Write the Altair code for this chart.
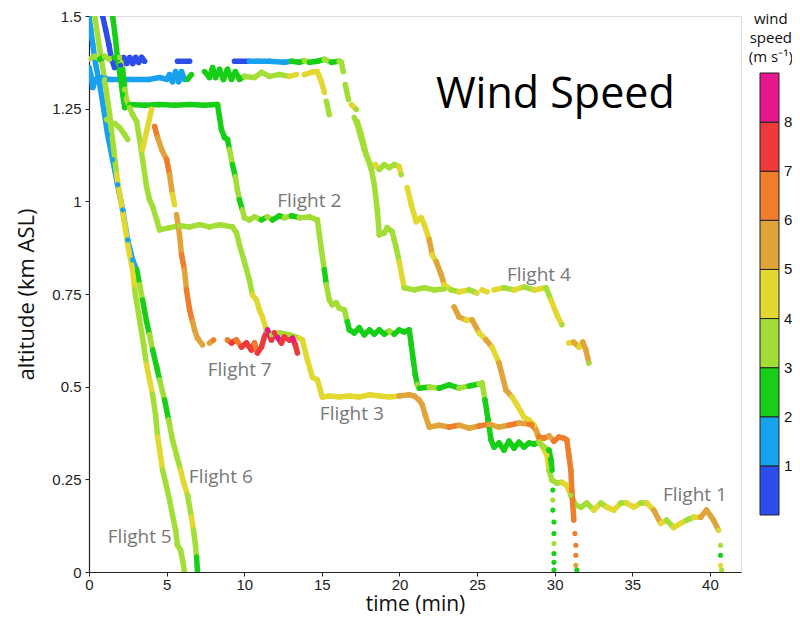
import altair as alt
import pandas as pd

N = None

# ---- flight tracks: time (min), altitude (km ASL), wind speed (m/s); None = gap in the record ----
f1_t = [0.0, 0.11, 0.24, 0.43, 0.69, 1.33, 2.62, 3.90, 4.55, 5.00, 5.19, 5.38, 5.58, 5.77, 5.96, 6.15, N,
        6.35, 6.60, N,
        7.44, 7.76, 7.96, 8.15, 8.41, 8.66, 8.92, 9.18, 9.43, 9.69, 10.01, 10.66, 11.11, 11.62, 12.26, 12.91, 13.36, N,
        13.87, 14.33, 14.71, 14.97, 15.16, N,
        15.29, 15.48, N,
        17.09, 17.28, 17.73, 18.19, 18.38, 18.57, 18.70, 19.02, 19.21, 19.53, 19.66, 19.79, 19.98, 20.18, 20.30,
        20.95, 21.60, 22.24, 22.88, N,
        23.52, 23.84, 24.29, 24.68, 25.13, 25.58, 25.96, 26.41, 26.86, 27.25,
        27.57, 28.02, 28.34, 28.67, 28.99, 29.50, 29.63, 29.82, 30.14, 30.46,
        30.78, 31.04, 31.36, 31.69, 32.07, 32.52, 32.97, 33.36, 33.81, 34.26,
        34.64, 35.09, 35.54, 35.93, 36.38, 36.83, 37.21, 37.66, 38.11, 38.50,
        38.95, 39.40, 39.78, 40.23, 40.55, N,
        40.68, N, 40.68, N, 40.68, N, 40.75]
f1_alt = [1.361, 1.342, 1.307, 1.329, 1.334, 1.329, 1.329, 1.329, 1.334, 1.329, 1.342, 1.323, 1.350, 1.323, 1.350, 1.329, N,
          1.329, 1.342, N,
          1.350, 1.334, 1.361, 1.334, 1.356, 1.329, 1.356, 1.329, 1.350, 1.329, 1.337, 1.334, 1.348, 1.337, 1.342, 1.337, 1.342, N,
          1.342, 1.348, 1.350, 1.323, 1.294, N,
          1.270, 1.234, N,
          1.226, 1.207, 1.140, 1.086, 1.045, 0.977, 0.910, 0.915, 0.929, 0.918, 0.896, 0.875, 0.837, 0.794, 0.767,
          0.761, 0.767, 0.761, 0.764, N,
          0.715, 0.688, 0.680, 0.680, 0.645, 0.626, 0.607, 0.564, 0.491, 0.472,
          0.451, 0.418, 0.410, 0.396, 0.356, 0.315, 0.275, 0.248, 0.240, 0.242,
          0.234, 0.207, 0.180, 0.175, 0.186, 0.167, 0.186, 0.175, 0.167, 0.186,
          0.186, 0.175, 0.186, 0.186, 0.167, 0.131, 0.140, 0.120, 0.131, 0.140,
          0.148, 0.148, 0.167, 0.140, 0.113, N,
          0.072, N, 0.045, N, 0.018, N, 0.005]
f1_ws = [15, 15, 15, 15, 15, 15, 15, 15, 15, 15, 15, 15, 15, 15, 15, 15, N,
         25, 25, N,
         25, 25, 25, 25, 25, 25, 25, 25, 25, 25, 35, 35, 35, 35, 35, 45, 45, N,
         45, 45, 45, 45, 45, N,
         35, 35, N,
         35, 35, 35, 35, 35, 35, 35, 35, 35, 35, 35, 35, 45, 45, 35,
         35, 35, 35, 35, N,
         55, 55, 45, 55, 45, 55, 45, 55, 55, 45,
         45, 45, 45, 45, 45, 45, 35, 35, 35, 45,
         45, 35, 35, 35, 35, 45, 35, 45, 45, 35,
         45, 45, 35, 45, 55, 45, 35, 45, 45, 35,
         45, 55, 55, 55, 45, N,
         35, N, 25, N, 45, N, 35]

f2_t = [1.52, 1.71, 1.84, 2.04, 2.17, 2.30, 2.62, 3.58, 4.55, 5.51, 6.48, 7.44, 8.28, 8.41, 8.53, 8.73, 8.92, 9.05, 9.24, 9.43,
        9.56, 9.69, 9.88, 10.01, 10.33, 10.66, 11.11, 11.49, 11.82, 12.26, 12.58, 13.04, 13.55, 14.20, 14.71, 14.84, 14.97, 15.16, 15.29, 15.48,
        15.67, 15.93, 16.12, 16.45, 16.64, 16.77, 17.09, 17.41, 17.73, 18.06, 18.38, 18.70, 19.02, 19.34, 19.66, 19.98, 20.30, 20.63, 20.76, 20.89,
        21.02, 21.15, 21.27, 21.92, 22.56, 23.20, 23.84, 24.49, 25.13, 25.32, 25.51, 25.71, 25.90, 26.09, 26.41, 26.73, 27.05, 27.38, 27.70, 28.02,
        28.34, 28.67, 28.99, 29.31, 29.63, 29.76, 29.82, N,
        29.88, N, 29.88, N, 29.88, N, 29.95, N, 29.95, N, 29.95, N, 29.95, N, 29.95, N, 29.95]
f2_alt = [1.5, 1.437, 1.383, 1.329, 1.288, 1.253, 1.261, 1.259, 1.261, 1.259, 1.261, 1.259, 1.261, 1.226, 1.194, 1.172, 1.167, 1.140, 1.099, 1.066,
          1.031, 1.004, 0.977, 0.956, 0.950, 0.958, 0.950, 0.958, 0.950, 0.961, 0.956, 0.961, 0.956, 0.958, 0.950, 0.910, 0.869, 0.815, 0.775, 0.734,
          0.721, 0.726, 0.712, 0.707, 0.675, 0.653, 0.645, 0.659, 0.640, 0.653, 0.642, 0.653, 0.642, 0.650, 0.642, 0.653, 0.648, 0.653, 0.613, 0.572,
          0.532, 0.505, 0.496, 0.499, 0.496, 0.505, 0.496, 0.502, 0.507, 0.510, 0.464, 0.410, 0.356, 0.337, 0.348, 0.329, 0.353, 0.334, 0.350, 0.337,
          0.348, 0.345, 0.350, 0.337, 0.329, 0.302, 0.275, N,
          0.221, N, 0.194, N, 0.167, N, 0.135, N, 0.104, N, 0.077, N, 0.050, N, 0.026, N, 0.005]
f2_ws = [25, 25, 25, 25, 25, 25, 25, 25, 25, 25, 25, 25, 25, 25, 25, 25, 25, 35, 25, 35,
         35, 25, 35, 35, 35, 35, 25, 35, 25, 25, 35, 25, 35, 35, 35, 35, 35, 25, 35, 35,
         35, 35, 35, 35, 25, 25, 25, 25, 25, 25, 25, 25, 25, 35, 25, 25, 25, 25, 25, 25,
         25, 35, 25, 35, 25, 25, 35, 25, 35, 35, 25, 25, 25, 25, 25, 25, 25, 25, 25, 25,
         25, 25, 35, 35, 25, 25, 25, N,
         25, N, 35, N, 25, N, 25, N, 25, N, 35, N, 25, N, 25, N, 25]

f3_t = [0.0, 0.37, 0.69, 1.01, 1.33, 1.65, 1.97, 2.17, 2.30, 2.42, 2.62, 2.81, 3.07, 3.26, 3.45, 3.71, 3.90, 4.10, 4.36, 4.55,
        5.19, 5.83, 6.48, 7.12, 7.76, 8.41, 9.24, 9.50, 9.69, 10.01, 10.33, 10.53, 10.78, 10.98, 11.17, 11.43, 11.75, 12.26, 12.91, 13.55,
        13.75, 14.07, 14.39, 14.71, 14.90, 15.03, 15.48, 16.12, 16.77, 17.41, 18.06, 18.70, 19.34, 19.98, 20.63, 20.95, 21.27, 21.47, 21.66, 21.92,
        22.56, 23.20, 23.84, 24.49, 25.13, 25.77, 26.41, 27.05, 27.70, 28.34, 28.54, 28.80, 28.99, 29.31, 29.63, 29.95, 30.27, 30.59, 30.78, 30.91,
        31.04, 31.10, 31.17, 31.23, N,
        31.30, N, 31.36, N, 31.36, N, 31.36, N, 31.43]
f3_alt = [1.383, 1.391, 1.383, 1.391, 1.383, 1.388, 1.388, 1.356, 1.302, 1.275, 1.253, 1.234, 1.215, 1.167, 1.113, 1.039, 1.004, 0.986, 0.950, 0.923,
          0.929, 0.934, 0.931, 0.937, 0.931, 0.937, 0.931, 0.915, 0.883, 0.837, 0.788, 0.748, 0.734, 0.707, 0.688, 0.653, 0.640, 0.645, 0.640, 0.631,
          0.626, 0.572, 0.526, 0.518, 0.491, 0.472, 0.475, 0.472, 0.475, 0.472, 0.478, 0.475, 0.472, 0.475, 0.478, 0.475, 0.464, 0.451, 0.423, 0.391,
          0.396, 0.391, 0.396, 0.388, 0.394, 0.399, 0.391, 0.396, 0.402, 0.399, 0.396, 0.383, 0.364, 0.361, 0.367, 0.353, 0.364, 0.361, 0.356, 0.315,
          0.275, 0.221, 0.180, 0.140, N,
          0.104, N, 0.072, N, 0.045, N, 0.018, N, 0.005]
f3_ws = [35, 35, 25, 35, 35, 25, 35, 25, 35, 35, 35, 35, 35, 35, 35, 35, 35, 35, 35, 35,
         35, 35, 35, 35, 35, 35, 35, 35, 35, 35, 35, 45, 45, 45, 45, 35, 35, 35, 35, 45,
         45, 45, 45, 45, 45, 45, 45, 45, 45, 45, 45, 45, 45, 55, 55, 55, 55, 55, 55, 55,
         55, 65, 55, 55, 65, 55, 55, 65, 55, 65, 65, 55, 65, 65, 55, 65, 65, 65, 65, 65,
         65, 65, 65, 65, N,
         65, N, 65, N, 65, N, 55, N, 25]

f4_t = [0.88, 1.07, 1.27, 1.46, 1.65, 1.84, 2.04, 2.23, 2.42, 2.62, 2.81, 3.00, 3.20, 3.39, 3.58, N,
        5.70, 6.48, N,
        9.37, 10.33, 10.85, 11.62, 12.58, 13.04, 13.55, 13.87, 14.20, 14.71, 15.16, 15.61, 16.12, 16.25, 16.38, N,
        16.51, 16.71, N,
        16.90, 17.22, N,
        17.28, 17.54, 17.86, 18.19, 18.44, 18.70, 19.02, 19.34, 19.66, 19.98, 20.11, N,
        20.50, 20.76, 21.08, 21.40, 21.60, 21.92, 22.11, 22.37, 22.69, 22.88, 23.33, 23.84, 24.49, 24.98, N,
        25.32, 25.64, N,
        26.09, 26.73, 27.38, 28.02, 28.67, 29.44, 29.76, 30.14, 30.46, N,
        30.91, 31.23, 31.56, 31.81, 32.01, 32.20]
f4_alt = [1.5, 1.464, 1.424, 1.383, 1.361, 1.383, 1.367, 1.388, 1.372, 1.388, 1.372, 1.388, 1.375, 1.388, 1.378, N,
          1.378, 1.378, N,
          1.378, 1.378, 1.378, 1.378, 1.375, 1.378, 1.375, 1.380, 1.375, 1.378, 1.383, 1.375, 1.378, 1.375, 1.350, N,
          1.315, 1.275, N,
          1.261, 1.248, N,
          1.215, 1.180, 1.126, 1.091, 1.099, 1.086, 1.099, 1.091, 1.099, 1.094, 1.072, N,
          1.037, 0.991, 0.945, 0.956, 0.937, 0.896, 0.856, 0.837, 0.802, 0.775, 0.761, 0.756, 0.761, 0.753, N,
          0.761, 0.756, N,
          0.761, 0.767, 0.761, 0.769, 0.761, 0.767, 0.734, 0.694, 0.667, N,
          0.618, 0.620, 0.607, 0.620, 0.599, 0.564]
f4_ws = [5, 5, 5, 5, 5, 5, 5, 5, 5, 5, 5, 5, 5, 5, 5, N,
         5, 5, N,
         5, 15, 15, 15, 15, 25, 25, 35, 25, 25, 35, 25, 35, 35, 35, N,
         35, 35, N,
         45, 35, N,
         35, 35, 35, 35, 45, 35, 35, 35, 35, 45, 35, N,
         45, 45, 45, 45, 45, 55, 45, 55, 55, 45, 35, 45, 35, 45, N,
         45, 45, N,
         45, 35, 45, 35, 45, 35, 45, 45, 35, N,
         45, 55, 45, 55, 55, 35]

f5_t = [0.37, 0.69, 1.01, 1.33, 1.59, 1.78, 2.04, 2.30, 2.55, 2.81, 2.94, 3.26, 3.52, 3.71, 3.90, 4.10, 4.29, 4.42, 4.55, 4.74,
        4.93, 5.19, 5.38, 5.58, 5.70, 5.90, 6.03, 6.15]
f5_alt = [1.5, 1.410, 1.329, 1.234, 1.140, 1.072, 1.004, 0.937, 0.869, 0.815, 0.761, 0.680, 0.613, 0.559, 0.518, 0.478, 0.424, 0.364, 0.329, 0.275,
          0.242, 0.194, 0.153, 0.113, 0.072, 0.059, 0.032, 0.0]
f5_ws = [35, 35, 35, 35, 35, 45, 45, 45, 45, 45, 35, 35, 35, 45, 45, 35, 35, 45, 45, 35,
         35, 35, 35, 35, 35, 35, 35, 35]

f6_t = [0.0, 0.11, 0.24, 0.43, 0.69, 0.95, 1.20, 1.52, 1.84, 2.17, 2.49, 2.81, 3.07, 3.26, 3.45, 3.71, 3.90, 4.10, 4.36, 4.55,
        4.87, 5.13, 5.38, 5.64, 5.90, 6.09, 6.35, 6.60, 6.73, 6.86, 6.93, 6.99]
f6_alt = [1.5, 1.464, 1.424, 1.369, 1.315, 1.248, 1.180, 1.113, 1.045, 0.977, 0.896, 0.842, 0.815, 0.775, 0.734, 0.675, 0.640, 0.599, 0.553, 0.518,
          0.464, 0.410, 0.356, 0.315, 0.275, 0.242, 0.207, 0.148, 0.113, 0.072, 0.040, 0.0]
f6_ws = [15, 15, 15, 15, 15, 15, 15, 15, 15, 15, 15, 15, 25, 35, 25, 25, 35, 25, 25, 35,
         25, 35, 35, 35, 45, 45, 35, 45, 35, 35, 25, 25]

f7_t = [1.14, 1.33, N,
        1.65, 1.97, 2.30, 2.49, N,
        3.45, 3.71, 4.03, N,
        4.23, 4.42, 4.68, 5.00, 5.19, 5.38, 5.51, N,
        5.64, 5.83, 5.96, 6.15, 6.28, 6.48, 6.67, 6.80, 6.99, 7.31, N,
        7.76, 8.02, N,
        8.92, 9.18, 9.50, 9.82, 10.14, 10.46, 10.66, 10.85, 11.11, 11.30, 11.49, 11.75, 11.94, 12.13, 12.39, 12.58, 12.91, 13.10, 13.29, 13.42]
f7_alt = [1.221, 1.215, N,
          1.210, 1.199, 1.180, 1.167, N,
          1.140, 1.188, 1.248, N,
          1.202, 1.172, 1.140, 1.113, 1.072, 1.018, 0.991, N,
          0.964, 0.910, 0.856, 0.815, 0.761, 0.707, 0.675, 0.653, 0.631, 0.613, N,
          0.618, 0.626, N,
          0.626, 0.618, 0.626, 0.607, 0.618, 0.599, 0.618, 0.591, 0.607, 0.634, 0.653, 0.626, 0.645, 0.634, 0.618, 0.634, 0.626, 0.631, 0.613, 0.591]
f7_ws = [35, 35, N,
         35, 35, 35, 35, N,
         45, 45, 45, N,
         65, 55, 55, 65, 55, 45, 45, N,
         55, 55, 65, 55, 65, 65, 55, 55, 55, 55, N,
         55, 65, N,
         65, 75, 65, 75, 75, 75, 65, 75, 75, 75, 85, 75, 75, 85, 75, 75, 75, 85, 75, 75]

# ---- annotations (placed in data units) ----
label_text = ["Flight 1", "Flight 2", "Flight 3", "Flight 4", "Flight 5", "Flight 6", "Flight 7"]
label_t = [39.03, 14.19, 16.93, 28.98, 3.27, 8.49, 9.71]
label_alt = [0.207, 1.0, 0.426, 0.801, 0.094, 0.256, 0.544]
title_text = ["Wind Speed"]
title_t = [30.04]
title_alt = [1.252]
legend_title_text = ["wind\nspeed\n(m s\u207b\u00b9)"]
legend_title_t = [43.92]
legend_title_alt = [1.492]

# ---- colour classes ----
ws_breaks = [10, 20, 30, 40, 50, 60, 70, 80]
ws_colors = ["#2c4de9", "#18a1ee", "#16cf16", "#a3de36", "#e3d830", "#e1a43a", "#ee7d2c", "#ee3a3a", "#e6168c"]
x_ticks = [0, 5, 10, 15, 20, 25, 30, 35, 40]
y_ticks = [0, 0.25, 0.5, 0.75, 1, 1.25, 1.5]

flights = [
    ("Flight 6", f6_t, f6_alt, f6_ws),
    ("Flight 5", f5_t, f5_alt, f5_ws),
    ("Flight 4", f4_t, f4_alt, f4_ws),
    ("Flight 1", f1_t, f1_alt, f1_ws),
    ("Flight 2", f2_t, f2_alt, f2_ws),
    ("Flight 3", f3_t, f3_alt, f3_ws),
    ("Flight 7", f7_t, f7_alt, f7_ws),
]

seg_rows, pt_rows = [], []
for name, ts, als, wss in flights:
    for i in range(len(ts)):
        if ts[i] is None:
            continue
        pt_rows.append({"flight": name, "t": ts[i], "alt": als[i], "ws": wss[i]})
        if i + 1 < len(ts) and ts[i + 1] is not None:
            seg_rows.append({"flight": name, "t": ts[i], "alt": als[i],
                             "t2": ts[i + 1], "alt2": als[i + 1], "ws": wss[i]})
seg_df = pd.DataFrame(seg_rows)
pt_df = pd.DataFrame(pt_rows)
lab_df = pd.DataFrame({"t": label_t, "alt": label_alt, "label": label_text})
ttl_df = pd.DataFrame({"t": title_t, "alt": title_alt, "label": title_text})
lt_df = pd.DataFrame({"t": legend_title_t, "alt": legend_title_alt, "label": legend_title_text})

x_scale = alt.Scale(domain=[0, 42], nice=False, zero=False)
y_scale = alt.Scale(domain=[0, 1.5], nice=False, zero=False)
color_scale = alt.Scale(type="threshold", domain=ws_breaks, range=ws_colors)

legend = alt.Legend(
    type="gradient", orient="none", legendX=671, legendY=57, direction="vertical",
    gradientLength=442, gradientThickness=19, gradientStrokeColor="#222", gradientStrokeWidth=1,
    title=None,
    labelFont="Liberation Sans", labelFontSize=15, labelColor="#111", labelOffset=5,
)

x_axis = alt.Axis(values=x_ticks, title="time (min)", titleFont="Open Sans", titleFontSize=21,
                  titleFontWeight="normal", titleColor="#111", titleBaseline="alphabetic", titleY=38,
                  labelFont="Liberation Sans", labelFontSize=15, labelColor="#222", labelPadding=1,
                  labelFlush=False, labelOverlap=False,
                  tickSize=4, tickColor="#222", domainColor="#222", domainWidth=1.2, grid=False,
                  labelExpr="'' + datum.value")
y_axis = alt.Axis(values=y_ticks, title="altitude (km ASL)", titleFont="Open Sans", titleFontSize=22,
                  titleFontWeight="normal", titleColor="#111", titleAngle=-90, titleBaseline="alphabetic",
                  titleAlign="center", titleX=-56, titleY=278,
                  labelFont="Liberation Sans", labelFontSize=15, labelColor="#222", labelPadding=4,
                  labelFlush=False, labelOverlap=False,
                  tickSize=4, tickColor="#222", domainColor="#222", domainWidth=1.2, grid=False,
                  labelExpr="'' + datum.value")

segs = alt.Chart(seg_df).mark_rule(strokeWidth=5.5, strokeCap="round", clip=True).encode(
    x=alt.X("t:Q", scale=x_scale, axis=x_axis),
    x2="t2:Q",
    y=alt.Y("alt:Q", scale=y_scale, axis=y_axis),
    y2="alt2:Q",
    color=alt.Color("ws:Q", scale=color_scale, legend=legend),
)
pts = alt.Chart(pt_df).mark_circle(size=26, opacity=1, clip=True).encode(
    x=alt.X("t:Q", scale=x_scale),
    y=alt.Y("alt:Q", scale=y_scale),
    color=alt.Color("ws:Q", scale=color_scale, legend=legend),
)
labels = alt.Chart(lab_df).mark_text(font="Open Sans", fontSize=19, color="#777", align="center",
                                     baseline="middle").encode(
    x=alt.X("t:Q", scale=x_scale), y=alt.Y("alt:Q", scale=y_scale), text="label:N")
big_title = alt.Chart(ttl_df).mark_text(font="Open Sans", fontSize=43, color="#000", align="center",
                                        baseline="alphabetic").encode(
    x=alt.X("t:Q", scale=x_scale), y=alt.Y("alt:Q", scale=y_scale), text="label:N")
legend_title = alt.Chart(lt_df).mark_text(font="Open Sans", fontSize=15, color="#111", align="center",
                                          baseline="middle", lineBreak="\n", lineHeight=19).encode(
    x=alt.X("t:Q", scale=x_scale), y=alt.Y("alt:Q", scale=y_scale), text="label:N")

chart = alt.layer(segs, pts, labels, big_title, legend_title).properties(
    width=652, height=556,
    autosize=alt.AutoSizeParams(type="none"),
    padding={"left": 81, "top": 8, "right": 51, "bottom": 43},
).configure_view(stroke="#444", strokeWidth=1).configure(background="white")

chart.save("out.html", embed_options={"renderer": "svg", "actions": False})
